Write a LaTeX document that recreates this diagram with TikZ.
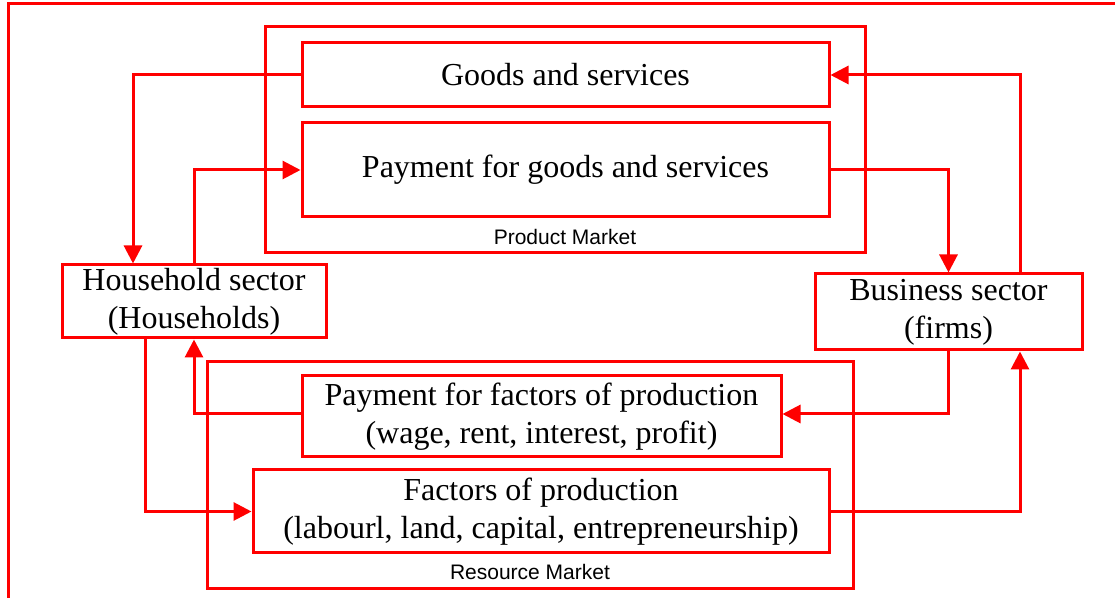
\documentclass[tikz,border=0pt]{standalone}
\usepackage{fontspec}
\setmainfont{Liberation Serif}
\setsansfont{Liberation Sans}
\usetikzlibrary{arrows.meta}

\begin{document}
\begin{tikzpicture}[x=0.5pt,y=-0.5pt,>={Triangle[length=9pt,width=9pt]},line width=1.5pt,red,
    main node/.style={draw,rectangle,text=black,align=center,inner sep=0pt,font=\fontsize{16}{19}\selectfont},
    market/.style={draw,rectangle,inner sep=0pt},
    market label/.style={text=black,inner sep=0pt,font=\sffamily\fontsize{10.5}{12}\selectfont},
    hv/.style={to path={-| (\tikztotarget)}},
    vh/.style={to path={|- (\tikztotarget)}}]
            \useasboundingbox (0,0) rectangle (1115,598);
            \clip (0,0) rectangle (1115,598);
            \draw (8,4) rectangle (1140,640);

            % the two markets
            \node[market, minimum width=300pt, minimum height=113pt] (pm) at (565,140) {};
            \node[market, minimum width=323pt, minimum height=113.5pt] (rm) at (530,475.5) {};
            \node[market label] (pml) at (565,237) {Product Market};
            \node[market label] (rml) at (530,572) {Resource Market};

            \node[main node, minimum width=263.5pt, minimum height=32pt] (goods) at (565.5,75) {Goods and services};
            \node[main node, minimum width=263.5pt, minimum height=47pt] (paygoods) at (565.5,170) {Payment for goods and services};

            \node[main node, minimum width=132pt, minimum height=36.5pt] (house) at (194,301.5) {Household sector\\(Households)};
            \node[main node, minimum width=133.5pt, minimum height=38pt] (firms) at (948.5,312) {Business sector\\(firms)};

            \node[main node, minimum width=239.5pt, minimum height=40.5pt] (payfactors) at (541.5,416.5) {Payment for factors of production\\(wage, rent, interest, profit)};
            \node[main node, minimum width=288pt, minimum height=41.5pt] (factors) at (541,511.5) {Factors of production\\(labourl, land, capital, entrepreneurship)};

            \path[->]
                (goods.west) edge[hv] ([xshift=-30.5pt]house.north)
                (house.north) edge[vh] (paygoods.west)

                (paygoods.east) edge[hv] (firms.north)
                ([xshift=35.75pt]firms.north) edge[vh] (goods.east)

                (firms.south) edge[vh] ([yshift=1.25pt]payfactors.east)
                ([yshift=1.25pt]payfactors.west) edge[hv] (house.south)

                ([xshift=-24.5pt]house.south) edge[vh] (factors.west)
                (factors.east) edge[hv] ([xshift=35.75pt]firms.south)
            ;
            \end{tikzpicture}
\end{document}
